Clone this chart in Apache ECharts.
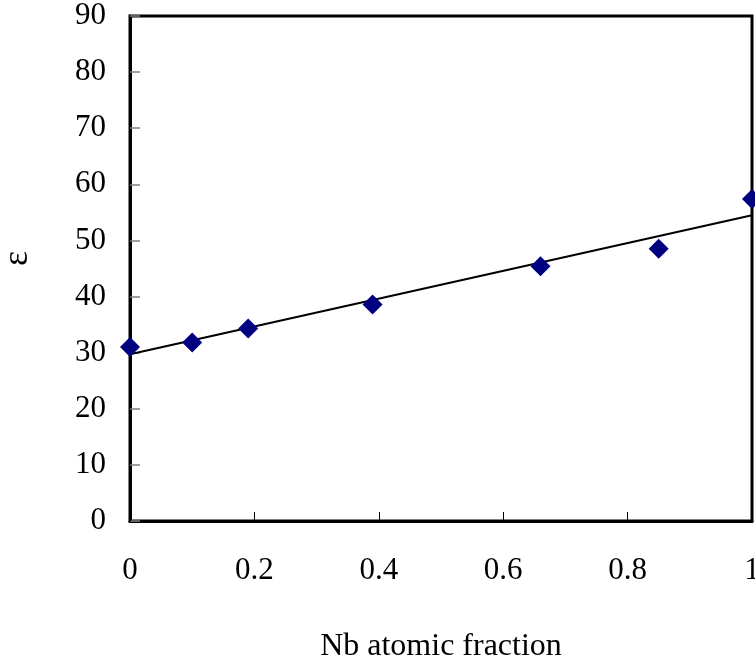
<!DOCTYPE html>
<html>
<head>
<meta charset="utf-8">
<script src="https://cdn.jsdelivr.net/npm/echarts@6/dist/echarts.min.js"></script>
<style>html,body{margin:0;padding:0;background:#fff}#c{width:755px;height:662px}</style>
</head>
<body>
<div id="c"></div>
<script>
var nbFraction = [0, 0.1, 0.19, 0.39, 0.66, 0.85, 1.0];
var epsilon = [31.0, 31.8, 34.3, 38.6, 45.4, 48.5, 57.4];
var fitX = [0, 1];
var fitY = [29.7, 54.5];
var xTicks = [0, 0.2, 0.4, 0.6, 0.8, 1];
var yTicks = [0, 10, 20, 30, 40, 50, 60, 70, 80, 90];

var font = 'Liberation Serif, Times New Roman, serif';
var chart = echarts.init(document.getElementById('c'));
chart.setOption({
  animation: false,
  backgroundColor: '#fff',
  grid: {left: 130, top: 16, right: 3, bottom: 141, show: true, borderColor: '#000', borderWidth: 3,
    backgroundColor: 'transparent', containLabel: false, outerBoundsMode: 'none'},
  xAxis: {
    type: 'value', min: 0, max: 1, interval: 0.2,
    name: 'Nb atomic fraction', nameLocation: 'middle', nameGap: 110,
    nameTextStyle: {fontFamily: font, fontSize: 32, color: '#000'},
    axisLine: {show: true, lineStyle: {color: '#000', width: 3}},
    axisTick: {show: true, inside: true, length: 9, lineStyle: {color: '#000', width: 1}},
    axisLabel: {fontFamily: font, fontSize: 31, color: '#000', margin: 34,
      formatter: function (v) { return String(parseFloat(v.toFixed(2))); }},
    splitLine: {show: false}
  },
  yAxis: {
    type: 'value', min: 0, max: 90, interval: 10,
    name: 'ε', nameLocation: 'middle', nameGap: 94, nameRotate: 90,
    nameTextStyle: {fontFamily: font, fontSize: 36, color: '#000', padding: [0, 0, 0, 20]},
    axisLine: {show: true, lineStyle: {color: '#000', width: 3}},
    axisTick: {show: true, inside: true, length: 10, lineStyle: {color: '#808080', width: 1.5}},
    axisLabel: {fontFamily: font, fontSize: 31, color: '#000', margin: 24},
    splitLine: {show: false}
  },
  series: [
    {
      type: 'line', data: fitX.map(function (x, i) { return [x, fitY[i]]; }),
      symbol: 'none', lineStyle: {color: '#000', width: 2}, z: 2
    },
    {
      type: 'scatter', data: nbFraction.map(function (x, i) { return [x, epsilon[i]]; }),
      symbol: 'diamond', symbolSize: 20, itemStyle: {color: '#000080', opacity: 1}, z: 3
    }
  ]
});
</script>
</body>
</html>
